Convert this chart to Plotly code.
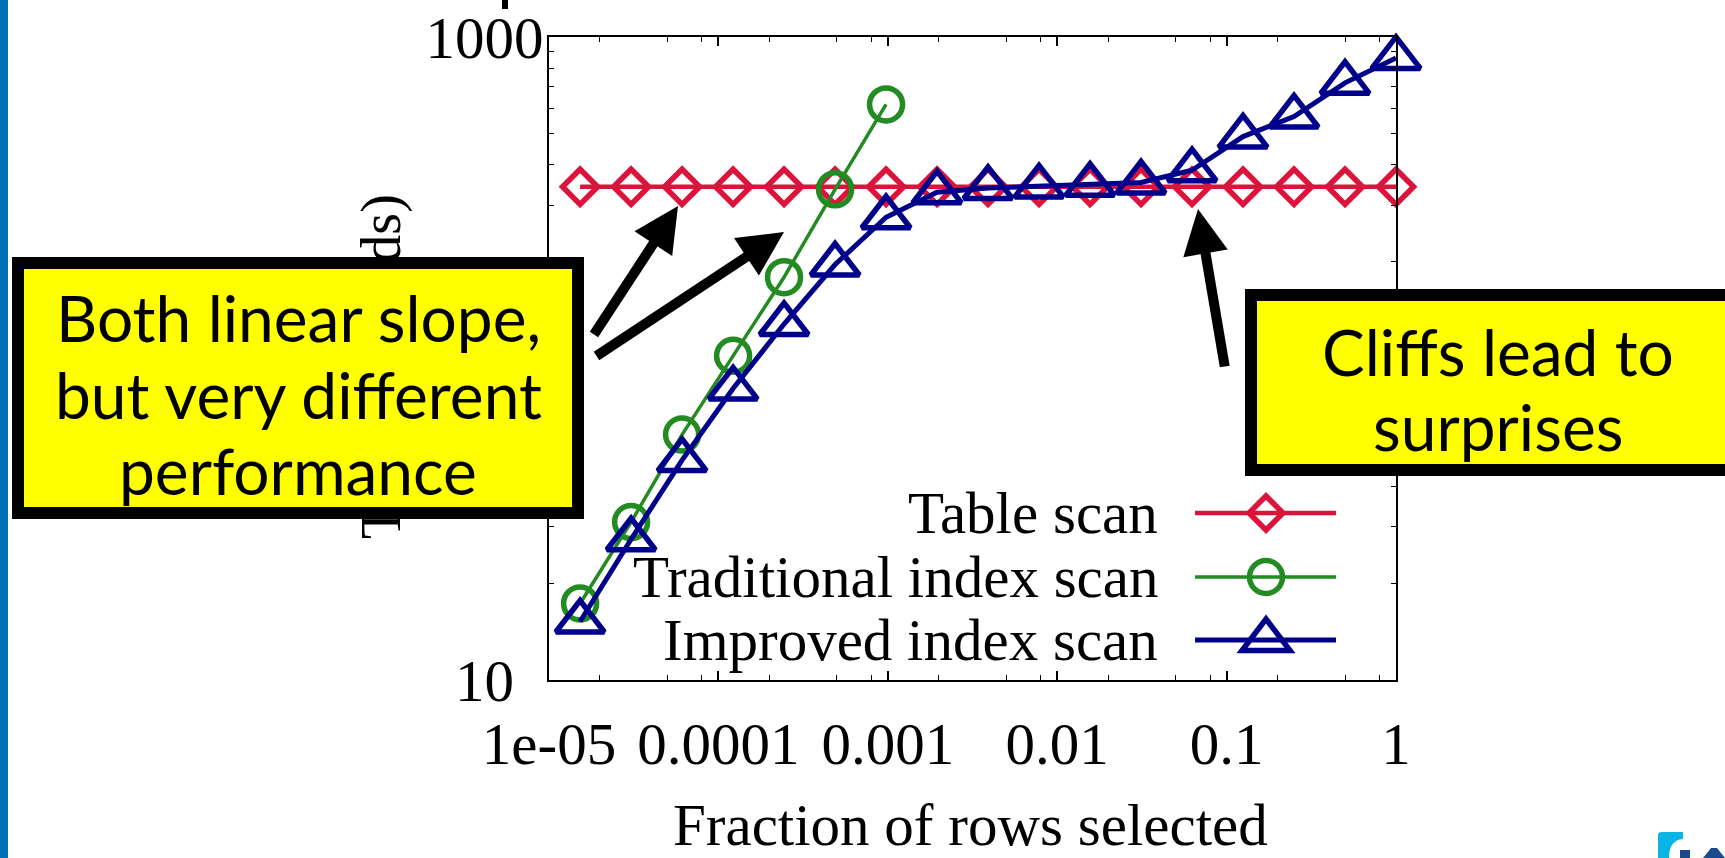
import plotly.graph_objects as go

# ---- data -----------------------------------------------------------------
# fraction of rows selected: powers of two from 2^-16 up to 1
fraction = [1.526e-05, 3.052e-05, 6.104e-05, 1.221e-04, 2.441e-04, 4.883e-04,
            9.766e-04, 1.953e-03, 3.906e-03, 7.813e-03, 1.563e-02, 3.125e-02,
            6.25e-02, 0.125, 0.25, 0.5, 1.0]

# query time in seconds
table_scan = [342, 342, 342, 342, 342, 342, 342, 342, 342,
              342, 342, 342, 342, 342, 342, 342, 342]
traditional_index = [17.3, 31, 58, 102, 179, 336, 617]
improved_index = [15.2, 27.4, 48.3, 80.7, 128, 196, 275, 329, 339,
                  343, 347, 353, 385, 490, 566, 720, 861]

series_names = ["Table scan", "Traditional index scan", "Improved index scan"]

x_tickvals = [1e-5, 1e-4, 1e-3, 1e-2, 1e-1, 1]
x_ticktext = ["1e-05", "0.0001", "0.001", "0.01", "0.1", "1"]
y_tickvals = [10, 100, 1000]
# labels are centred on one another, so the short ones get trailing padding
y_ticktext = ["10\u00a0\u00a0", "100\u00a0", "1000"]

x_title = "Fraction of rows selected"
y_title = "Time (seconds)"
left_callout = ["Both linear slope,", "but very different", "performance"]
right_callout = ["Cliffs lead to", "surprises"]

# ---- styling ----------------------------------------------------------------
RED = "#DC143C"
GREEN = "#228B22"
BLUE = "#00008B"
YELLOW = "#FFFF00"
SERIF = "Liberation Serif, Times New Roman, serif"
SANS = "Lato, Noto Sans, sans-serif"
FS = 59
CALLOUT_FS = 64

W, H = 1725, 858
ML, MR, MT, MB = 549, 329, 37, 178
PW, PH = W - ML - MR, H - MT - MB


def px(x):
    """page pixel x -> paper coordinate"""
    return (x - ML) / PW


def py(y):
    """page pixel y (from top) -> paper coordinate"""
    return (H - MB - y) / PH


x_minor = [m * 10.0 ** d for d in range(-5, 0) for m in (2, 5, 8)]
y_minor = [m * 10.0 ** d for d in (1, 2) for m in range(2, 10)]

fig = go.Figure()

fig.add_trace(go.Scatter(
    x=fraction, y=table_scan, name=series_names[0], mode="lines+markers",
    line=dict(color=RED, width=4.5),
    marker=dict(symbol="diamond-open", size=27, color=RED,
                line=dict(color=RED, width=5.5)),
    cliponaxis=False, showlegend=False))

fig.add_trace(go.Scatter(
    x=fraction[:len(traditional_index)], y=traditional_index,
    name=series_names[1], mode="lines+markers",
    line=dict(color=GREEN, width=3.5),
    marker=dict(symbol="circle-open", size=33, color=GREEN,
                line=dict(color=GREEN, width=5.5)),
    cliponaxis=False, showlegend=False))

fig.add_trace(go.Scatter(
    x=fraction, y=improved_index, name=series_names[2], mode="lines+markers",
    line=dict(color=BLUE, width=5),
    marker=dict(symbol="triangle-up-open", size=42, color=BLUE,
                line=dict(color=BLUE, width=5.5)),
    cliponaxis=False, showlegend=False))

axis_common = dict(
    showline=True, linecolor="black", linewidth=1.5, mirror="ticks",
    ticks="inside", ticklen=9, tickwidth=1.5, tickcolor="black",
    showgrid=False, zeroline=False, automargin=False,
    tickfont=dict(family=SERIF, size=FS, color="black"),
)

fig.update_xaxes(
    type="log", range=[-5, 0], tickmode="array",
    tickvals=x_tickvals, ticktext=x_ticktext, ticklabelstandoff=11,
    minor=dict(tickmode="array", tickvals=x_minor, ticks="inside",
               ticklen=5, tickwidth=1.2, tickcolor="black"),
    **axis_common)

fig.update_yaxes(
    type="log", range=[1, 3], tickmode="array",
    tickvals=y_tickvals, ticktext=y_ticktext, ticklabelstandoff=-8,
    minor=dict(tickmode="array", tickvals=y_minor, ticks="inside",
               ticklen=5, tickwidth=1.2, tickcolor="black"),
    **axis_common)

annotations = []

# axis titles as annotations: the x title sits close to the bottom edge of
# the page, and the y title has to sit underneath the left callout box
annotations.append(dict(
    text=x_title, showarrow=False, xref="paper", yref="paper",
    x=px(970), y=py(825), xanchor="center", yanchor="middle",
    font=dict(family=SERIF, size=FS, color="black")))
annotations.append(dict(
    text=y_title, textangle=-90, showarrow=False,
    xref="paper", yref="paper", x=px(381), y=py(367),
    xanchor="center", yanchor="middle",
    font=dict(family=SERIF, size=56, color="black")))

# callout boxes (outer edge of the black frame given in page pixels)
for x0, x1, y0, y1 in [(12, 584, 257, 519), (1245, 1751, 289, 476)]:
    bw = 12
    annotations.append(dict(
        text="\u00a0", showarrow=False, xref="paper", yref="paper",
        x=px((x0 + x1) / 2), y=py((y0 + y1) / 2),
        xanchor="center", yanchor="middle",
        width=x1 - x0 - 2 * bw, height=y1 - y0 - 2 * bw,
        bgcolor=YELLOW, bordercolor="black", borderwidth=bw, borderpad=0,
        font=dict(family=SANS, size=10, color=YELLOW)))

for line, yl in zip(left_callout, [317, 394, 470]):
    annotations.append(dict(
        text=line, showarrow=False, xref="paper", yref="paper",
        x=px(298), y=py(yl), xanchor="center", yanchor="middle",
        font=dict(family=SANS, size=CALLOUT_FS, color="black")))

for line, yl in zip(right_callout, [351, 426]):
    annotations.append(dict(
        text=line, showarrow=False, xref="paper", yref="paper",
        x=px(1498), y=py(yl), xanchor="center", yanchor="middle",
        font=dict(family=SANS, size=CALLOUT_FS, color="black")))

# arrows: (tip x, tip y, tail x, tail y) in page pixels
arrows = [(678, 206, 593, 336), (784, 232, 595, 357), (1198, 209, 1225, 368)]
for tx, ty, sx, sy in arrows:
    annotations.append(dict(
        text="", showarrow=True, xref="paper", yref="paper",
        x=px(tx), y=py(ty), ax=sx - tx, ay=sy - ty,
        arrowhead=2, arrowsize=0.9, arrowwidth=10, arrowcolor="black",
        standoff=0, startstandoff=0))

# key: right-aligned labels with sample line and symbol on their right
key_rows = [513, 577, 640]
key_colors = [RED, GREEN, BLUE]
key_widths = [4.5, 3.5, 5]
for name, yk in zip(series_names, key_rows):
    annotations.append(dict(
        text=name, showarrow=False, xref="paper", yref="paper",
        x=px(1160), y=py(yk), xanchor="right", yanchor="middle",
        font=dict(family=SERIF, size=FS, color="black")))

shapes = []
for col, yk, lw in zip(key_colors, key_rows, key_widths):
    shapes.append(dict(type="line", xref="paper", yref="paper",
                       x0=px(1195), x1=px(1336), y0=py(yk), y1=py(yk),
                       line=dict(color=col, width=lw), layer="above"))

key_x = px(1266)
shapes.append(dict(type="path", xref="paper", yref="paper",
                   xsizemode="pixel", ysizemode="pixel",
                   xanchor=key_x, yanchor=py(key_rows[0]),
                   path="M -17 0 L 0 17 L 17 0 L 0 -17 Z",
                   line=dict(color=RED, width=5.5),
                   fillcolor="rgba(0,0,0,0)", layer="above"))
shapes.append(dict(type="circle", xref="paper", yref="paper",
                   xsizemode="pixel", ysizemode="pixel",
                   xanchor=key_x, yanchor=py(key_rows[1]),
                   x0=-16.5, x1=16.5, y0=-16.5, y1=16.5,
                   line=dict(color=GREEN, width=5.5),
                   fillcolor="rgba(0,0,0,0)", layer="above"))
shapes.append(dict(type="path", xref="paper", yref="paper",
                   xsizemode="pixel", ysizemode="pixel",
                   xanchor=key_x, yanchor=py(key_rows[2]),
                   path="M -24 -10.5 L 24 -10.5 L 0 21 Z",
                   line=dict(color=BLUE, width=5.5),
                   fillcolor="rgba(0,0,0,0)", layer="above"))

# slide decoration: left accent bar, title descender, corner logo
shapes.append(dict(type="rect", xref="paper", yref="paper",
                   x0=px(0), x1=px(8), y0=py(H), y1=py(0),
                   line=dict(width=0), fillcolor="#0071B6", layer="above"))
shapes.append(dict(type="rect", xref="paper", yref="paper",
                   x0=px(502), x1=px(508), y0=py(9), y1=py(0),
                   line=dict(width=0), fillcolor="black", layer="above"))
shapes.append(dict(type="path", xref="paper", yref="paper",
                   xsizemode="pixel", ysizemode="pixel",
                   xanchor=px(1658), yanchor=py(H),
                   path="M 0 0 L 0 23 Q 0 26 4 26 L 25 26 L 25 19 "
                        "Q 11 18 11 0 Z",
                   line=dict(width=0), fillcolor="#0AB4E4", layer="above"))
shapes.append(dict(type="rect", xref="paper", yref="paper",
                   x0=px(1680), x1=px(1690), y0=py(H), y1=py(850),
                   line=dict(width=0), fillcolor="#1B4A8C", layer="above"))
shapes.append(dict(type="path", xref="paper", yref="paper",
                   xsizemode="pixel", ysizemode="pixel",
                   xanchor=px(1703), yanchor=py(H),
                   path="M 0 0 L 8 10 L 14 10 L 22 0 Z",
                   line=dict(width=0), fillcolor="#1B4A8C", layer="above"))

fig.update_layout(
    width=W, height=H,
    margin=dict(l=ML, r=MR, t=MT, b=MB, pad=0),
    paper_bgcolor="white", plot_bgcolor="white",
    showlegend=False,
    annotations=annotations, shapes=shapes,
)

fig.write_html("out.html")
